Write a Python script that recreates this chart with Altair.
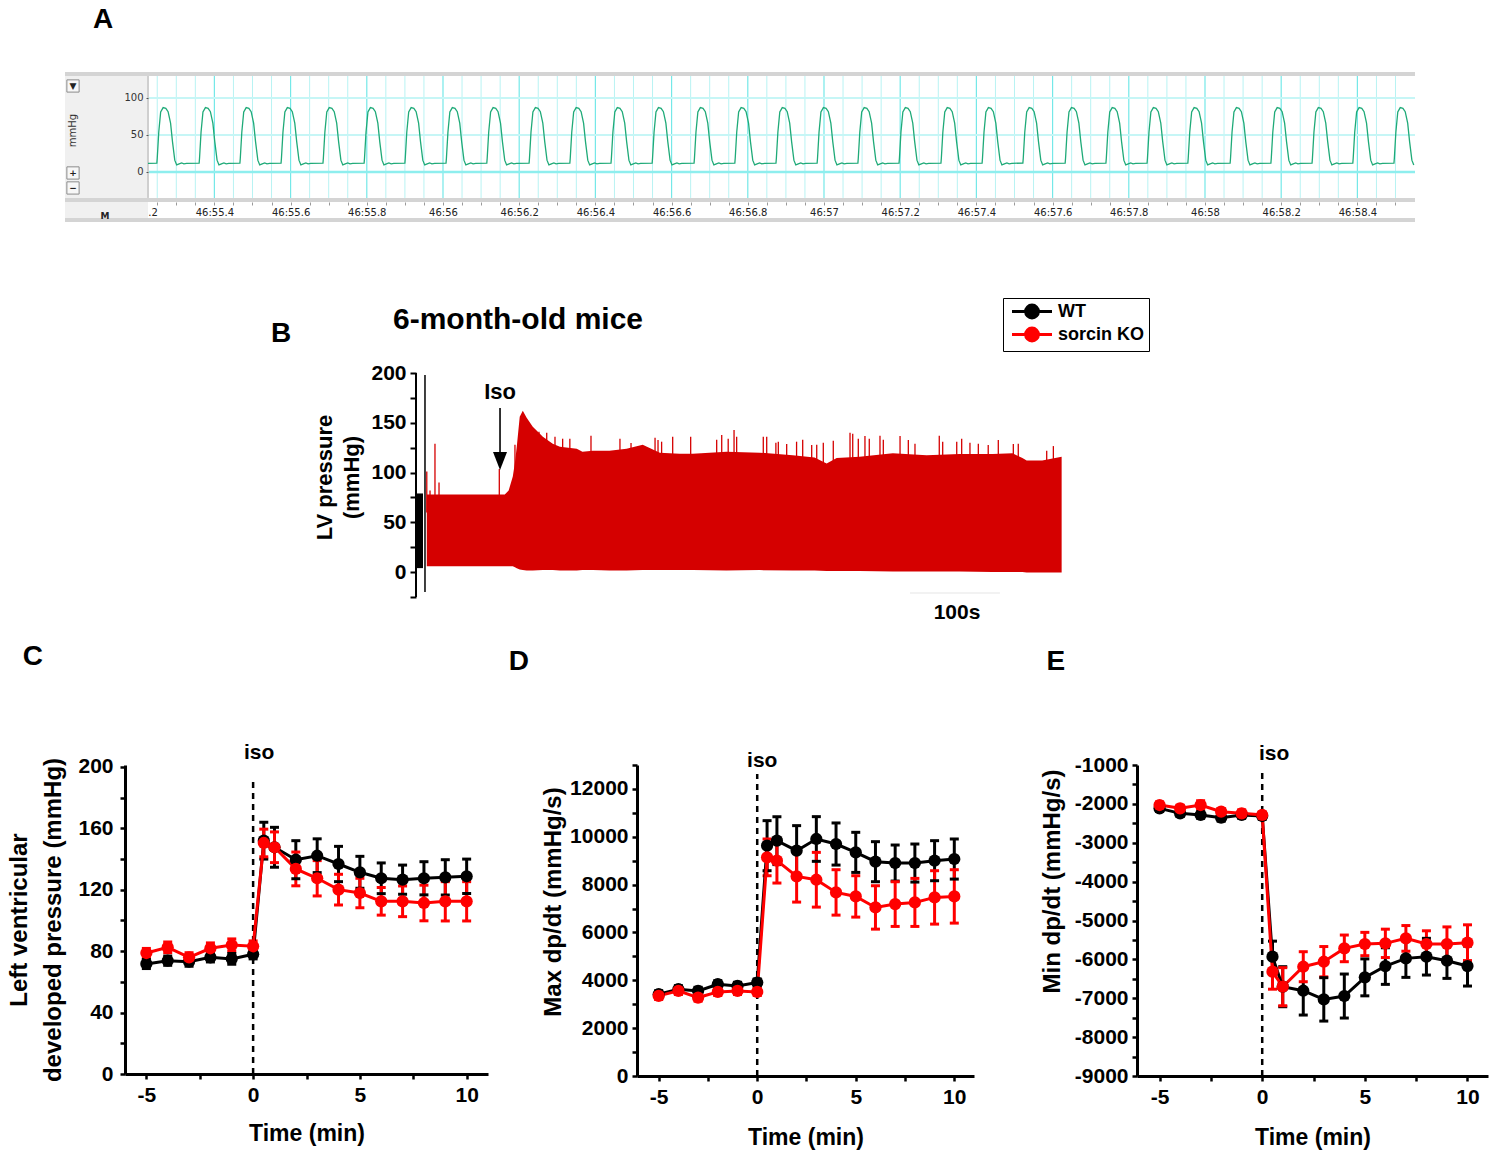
import altair as alt
import pandas as pd
import numpy as np

FONT = "Liberation Sans"
UI_FONT = "DejaVu Sans"

# ============================ DATA ============================
# ---- Panel A: raw LV pressure trace (one beat shape, placed at each read peak) ----
a_peak_s = [55.270, 55.381, 55.488, 55.596, 55.706, 55.814, 55.921, 56.029, 56.136, 56.247,
            56.354, 56.462, 56.570, 56.680, 56.787, 56.895, 57.003, 57.110, 57.218, 57.328,
            57.436, 57.543, 57.654, 57.761, 57.869, 57.976, 58.087, 58.194, 58.302, 58.409, 58.517]
a_beat_offset_ms = [-21, -20, -16, -11, -4.5, 2.5, 8.5, 15, 20, 26, 31, 37.5, 44, 50, 57]
a_beat_mmHg = [12, 18.5, 54, 81, 87, 86, 81.5, 66, 41, 16, 9.5, 11, 12.2, 11, 11.7]
a_ytick_values = [0, 50, 100]
a_time_label_prefix = "46:"
a_button_glyphs = ["\u25bc", "+", "\u2212"]
a_button_mmHg = [116.2, -1.35, -21.6]

# ---- Panel B: LV pressure recording (envelope of the red band, spikes above it) ----
b_env_t = [0, 86.7, 91, 95.6, 98, 100, 103.3, 106.7, 111, 117.8, 129, 140, 148, 166.7, 173, 184.4,
           203, 222, 240, 259, 281, 295.6, 333, 370, 406.7, 431, 444.4, 455.6, 481, 518, 555.6,
           592, 629, 651, 662, 666.7, 684, 705.6]
b_env_upper = [78, 78, 82, 96, 110, 126, 156, 162, 155, 146, 136, 129, 126, 124, 121, 122,
               122, 124, 128, 120, 119, 119, 121, 120, 117.5, 115, 109, 114.5, 116, 119.5, 117.5,
               118.6, 118.6, 119.5, 114.5, 112, 112, 116]
b_env_lower = [6, 6, 6, 6, 5, 4, 2.5, 2, 1.5, 1.5, 2, 2, 1.5, 1.5, 2, 2,
               1.5, 1.5, 2, 2, 2, 2, 1.5, 2, 1.5, 1.5, 1, 1, 1, 0.5, 0.5,
               0.5, 0, 0, 0, -0.5, -0.5, -0.5]
b_spike_t = [0, 3.6, 9.1, 13.6, 80.6, 98, 124.7, 133.3, 142.5, 151, 159, 182.5, 214.7, 227,
             253.7, 257, 261, 273.3, 293.3, 322.2, 327.8, 335, 341.5, 344.4, 374, 377.8, 388,
             390.7, 400, 411, 417.8, 427.8, 433.4, 440.7, 451.8, 470.4, 473.4, 479.6, 487,
             491.8, 503.7, 507.4, 526, 535.2, 542.6, 569.6, 573.4, 589, 594.5, 603.7, 613,
             624, 635.2, 651.9, 657.4, 689, 696.4]
b_spike_top = [101, 82, 129, 90, 103.5, 128, 141, 140, 136, 134, 134, 137, 134, 129.6,
               135, 132.6, 131, 136, 136, 133, 137.7, 134, 142.7, 136, 136, 136, 130,
               131, 128.6, 131, 133, 127.6, 128, 130, 132, 140, 139, 134, 136.7,
               134, 137, 133, 136.7, 132.6, 129, 137, 131, 131, 134, 130, 129,
               127.6, 132.6, 128.6, 129, 122, 126.6]
b_ytick_values = [-25, 0, 25, 50, 75, 100, 125, 150, 175, 200]

# ---- Panels C, D, E: mean +/- SEM ----
groups = ["WT", "sorcin KO"]
time_min = [-5, -4, -3, -2, -1, 0, 0.5, 1, 2, 3, 4, 5, 6, 7, 8, 9, 10]

lvdp_wt = [71.7, 73.8, 73.2, 76, 75, 78, 152, 147.7, 139.6, 142.2, 136.8, 131.4, 127.5, 126.6, 127.5, 128.1, 128.8]
lvdp_wt_sem = [3, 3, 3, 3, 3.5, 3, 12, 13, 12.4, 11, 11.5, 10.4, 10, 9.5, 10.8, 11.5, 11.2]
lvdp_ko = [78.8, 82.5, 76, 81.9, 84, 83.2, 150.5, 147.7, 133.6, 127.5, 120.1, 117.9, 112.5, 112.5, 111.4, 112.5, 112.5]
lvdp_ko_sem = [3, 3.5, 3, 3.5, 4, 3.5, 9, 10, 11, 11.5, 10, 9.6, 9, 10, 11.6, 12.8, 12.8]

maxdp_wt = [3418, 3628, 3558, 3837, 3767, 3907, 9628, 9837, 9418, 9907, 9697, 9348, 8958, 8902, 8902, 9000, 9069]
maxdp_wt_sem = [150, 150, 150, 150, 150, 150, 1046, 1000, 1047, 934, 880, 838, 837, 753, 795, 837, 838]
maxdp_ko = [3349, 3558, 3279, 3516, 3558, 3516, 9139, 9000, 8344, 8204, 7674, 7507, 7046, 7186, 7256, 7465, 7507]
maxdp_ko_sem = [150, 150, 150, 150, 150, 150, 768, 934, 1074, 1144, 949, 865, 907, 934, 1004, 1116, 1116]

mindp_wt = [-2115, -2244, -2286, -2355, -2286, -2312, -5931, -6703, -6806, -7029, -6943, -6463, -6172, -5974, -5931, -6034, -6172]
mindp_wt_sem = [80, 80, 80, 90, 80, 80, 400, 515, 626, 558, 566, 475, 471, 489, 472, 455, 514]
mindp_ko = [-2029, -2115, -2029, -2201, -2244, -2286, -6317, -6703, -6189, -6060, -5717, -5605, -5588, -5460, -5605, -5605, -5571]
mindp_ko_sem = [80, 80, 110, 80, 90, 80, 450, 490, 386, 390, 343, 300, 365, 330, 340, 440, 460]

# ============================ PANEL A ============================
A_X0, A_X1, A_PLOT_X0 = 55.0079, 58.5512, 55.2257
A_Y0, A_Y1 = -67.6, 135.1
A_GRID_TOP, A_GRID_BOT = 129.7, -35.1

trace_t, trace_p = [A_PLOT_X0], [a_beat_mmHg[-1]]
for pk in a_peak_s:
    for off, p in zip(a_beat_offset_ms, a_beat_mmHg):
        t = pk + off / 1000.0
        if A_PLOT_X0 <= t <= A_X1:
            trace_t.append(t)
            trace_p.append(p)
a_trace = pd.DataFrame({"t": trace_t, "p": trace_p})

a_ticks = [round(v, 2) for v in np.arange(55.20, 58.501, 0.05)]
a_grid_all = [v for v in a_ticks if v >= 55.25]
a_grid_major = [v for v in a_grid_all if abs(v * 5 - round(v * 5)) < 1e-6]
a_grid_minor = [v for v in a_grid_all if v not in a_grid_major]

ax_scale = alt.Scale(domain=[A_X0, A_X1], nice=False, zero=False)
ay_scale = alt.Scale(domain=[A_Y0, A_Y1], nice=False, zero=False)
a_label_expr = ("abs(datum.value*5 - round(datum.value*5)) < 0.01 ? ('" + a_time_label_prefix +
                "' + (abs(datum.value - round(datum.value)) < 0.01 ? format(datum.value, '.0f') : format(datum.value, '.1f'))) : ''")
a_xaxis = alt.Axis(values=a_ticks, labelExpr=a_label_expr, offset=-20, domain=False, grid=False,
                   tickSize=3, tickColor="#9a9a9a", tickWidth=1, labelFont=UI_FONT, labelFontSize=10,
                   labelColor="#222222", labelPadding=2, labelFlush=False, labelOverlap=False,
                   title=None, zindex=0)
a_yaxis = alt.Axis(values=a_ytick_values, offset=-83, domain=False, grid=False, tickSize=2,
                   tickColor="#555555", labelFont=UI_FONT, labelFontSize=10, labelColor="#333333",
                   labelPadding=3, title="mmHg", titleFont=UI_FONT, titleFontSize=10,
                   titleFontWeight="normal", titleColor="#333333", titleX=-71, titleY=58, zindex=1)


def ax(field):
    return alt.X(field, type="quantitative", scale=ax_scale, axis=a_xaxis)


def ay(field):
    return alt.Y(field, type="quantitative", scale=ay_scale, axis=a_yaxis)


a_sidebar = alt.Chart(pd.DataFrame({"x0": [A_X0], "x1": [A_PLOT_X0], "y0": [A_Y0], "y1": [A_Y1]})).mark_rect(
    color="#f0f0f0").encode(x=ax("x0"), x2="x1", y=ay("y0"), y2="y1")
a_bands = alt.Chart(pd.DataFrame({"x0": [A_X0] * 3, "x1": [A_X1] * 3,
                                  "y0": [A_GRID_TOP, -40.5, A_Y0], "y1": [A_Y1, A_GRID_BOT, -62.2]})).mark_rect(
    color="#d4d4d4").encode(x=ax("x0"), x2="x1", y=ay("y0"), y2="y1")
a_sep = alt.Chart(pd.DataFrame({"x": [A_PLOT_X0], "y0": [A_GRID_BOT], "y1": [A_GRID_TOP]})).mark_rule(
    color="#cfcfcf", strokeWidth=2).encode(x=ax("x"), y=ay("y0"), y2="y1")
a_vminor = alt.Chart(pd.DataFrame({"x": a_grid_minor, "y0": A_GRID_BOT, "y1": A_GRID_TOP})).mark_rule(
    color="#b8f3f3", strokeWidth=1).encode(x=ax("x"), y=ay("y0"), y2="y1")
a_vmajor = alt.Chart(pd.DataFrame({"x": a_grid_major, "y0": A_GRID_BOT, "y1": A_GRID_TOP})).mark_rule(
    color="#74e8e8", strokeWidth=1.2).encode(x=ax("x"), y=ay("y0"), y2="y1")
a_hlight = alt.Chart(pd.DataFrame({"y": [50, 100], "x0": A_PLOT_X0, "x1": A_X1})).mark_rule(
    color="#c6f6f6", strokeWidth=2).encode(y=ay("y"), x=ax("x0"), x2="x1")
a_hzero = alt.Chart(pd.DataFrame({"y": [0], "x0": A_PLOT_X0, "x1": A_X1})).mark_rule(
    color="#8eeeee", strokeWidth=2.5).encode(y=ay("y"), x=ax("x0"), x2="x1")
a_line = alt.Chart(a_trace).mark_line(color="#1faa78", strokeWidth=1.3).encode(x=ax("t"), y=ay("p"))
a_btn_df = pd.DataFrame({"x": 55.0289, "y": a_button_mmHg, "g": a_button_glyphs})
a_btn = alt.Chart(a_btn_df).mark_point(shape="square", size=150, filled=True, fill="#f7f7f7",
                                       stroke="#8c8c8c", strokeWidth=1, opacity=1).encode(x=ax("x"), y=ay("y"))
a_btn_txt = alt.Chart(a_btn_df).mark_text(font=UI_FONT, fontSize=9, fontWeight="bold", color="#222222").encode(
    x=ax("x"), y=ay("y"), text="g:N")
a_m = alt.Chart(pd.DataFrame({"x": [55.1129], "y": [-59.5], "s": ["M"]})).mark_text(
    font=UI_FONT, fontSize=9, fontWeight="bold", color="#222222").encode(x=ax("x"), y=ay("y"), text="s:N")
a_letter = alt.Chart(pd.DataFrame({"x": [55.1076], "y": [205.4], "s": ["A"]})).mark_text(
    font=FONT, fontSize=28, fontWeight="bold", color="black").encode(x=ax("x"), y=ay("y"), text="s:N")

chart_a = alt.layer(a_sidebar, a_bands, a_vminor, a_vmajor, a_hlight, a_hzero, a_sep, a_line,
                    a_btn, a_btn_txt, a_m, a_letter).properties(width=1350, height=150)

# ============================ PANEL B ============================
B_T_LEFT = -402.1      # time at the left edge of the (wide) B view
B_T_AXIS = -12         # time where the pressure axis sits
B_Y_BOTTOM = -42.08
bx_scale = alt.Scale(domain=[B_T_LEFT, 706], nice=False, zero=False)
by_scale = alt.Scale(domain=[B_Y_BOTTOM, 200], nice=False, zero=False)
b_yaxis = alt.Axis(values=b_ytick_values, offset=-351, domain=False,
                   labelExpr="datum.value % 50 == 0 && datum.value >= 0 ? '' + datum.value : ''",
                   title=["LV pressure", "(mmHg)"], titleX=-80, titleY=104, titleLineHeight=27,
                   titleFontSize=22, titleFont=FONT, titleFontWeight="bold", titleColor="black",
                   labelFont=FONT, labelFontSize=21, labelFontWeight="bold", labelColor="black",
                   labelPadding=4, tickSize=6, tickWidth=2, tickColor="black", grid=False, labelOverlap=False)


def bx(field):
    return alt.X(field, type="quantitative", scale=bx_scale, axis=None)


def by(field):
    return alt.Y(field, type="quantitative", scale=by_scale, axis=b_yaxis)


b_axisline = alt.Chart(pd.DataFrame({"x": [B_T_AXIS], "y0": [-25], "y1": [200]})).mark_rule(
    color="black", strokeWidth=2).encode(x=bx("x"), y=by("y0"), y2="y1")
b_bar = alt.Chart(pd.DataFrame({"x0": [-11.8], "x1": [-4.2], "y0": [4], "y1": [79]})).mark_rect(
    color="black").encode(x=bx("x0"), x2="x1", y=by("y0"), y2="y1")
b_break = alt.Chart(pd.DataFrame({"x": [-2], "y0": [-20], "y1": [198]})).mark_rule(
    color="black", strokeWidth=1.5).encode(x=bx("x"), y=by("y0"), y2="y1")
b_spikes = alt.Chart(pd.DataFrame({"t": b_spike_t, "top": b_spike_top, "base": 60})).mark_rule(
    color="#d50000", strokeWidth=1.3).encode(x=bx("t"), y=by("base"), y2="top")
b_area = alt.Chart(pd.DataFrame({"t": b_env_t, "lo": b_env_lower, "hi": b_env_upper})).mark_area(
    color="#d50000", opacity=1).encode(x=bx("t"), y=by("lo"), y2="hi")
b_arrow = alt.Chart(pd.DataFrame({"x": [81.4], "y0": [119.6], "y1": [164.8]})).mark_rule(
    color="black", strokeWidth=1.6).encode(x=bx("x"), y=by("y0"), y2="y1")
b_head = alt.Chart(pd.DataFrame({"x": [81.4], "y": [111.6]})).mark_point(
    shape="M-1,-1.3L1,-1.3L0,1.3Z", filled=True, size=196, color="black", opacity=1).encode(x=bx("x"), y=by("y"))
b_text = alt.Chart(pd.DataFrame({
    "x": [81.4, 101.4, -162, 589.3],
    "y": [180.9, 253.2, 239.2, -41.1],
    "s": ["Iso", "6-month-old mice", "B", "100s"],
    "fs": [22, 30, 28, 21],
})).mark_text(font=FONT, fontWeight="bold", color="black").encode(
    x=bx("x"), y=by("y"), text="s:N", size=alt.Size("fs:Q", scale=None, legend=None))
b_scalebar = alt.Chart(pd.DataFrame({"x0": [537], "x1": [637], "y": [-21]})).mark_rule(
    color="#eeeeee", strokeWidth=1.5).encode(x=bx("x0"), x2="x1", y=by("y"))

chart_b = alt.layer(b_axisline, b_bar, b_break, b_spikes, b_area, b_arrow, b_head, b_text,
                    b_scalebar).properties(width=997, height=241)

# ============================ PANELS C, D, E ============================
SYMBOL = "M-2.5,0L2.5,0M-0.8,0A0.8,0.8,0,1,1,0.8,0A0.8,0.8,0,1,1,-0.8,0Z"
legend = alt.Legend(title=None, orient="none", legendX=938, legendY=226, symbolType=SYMBOL,
                    symbolSize=256, symbolStrokeWidth=3, symbolOpacity=1, symbolOffset=15.5,
                    labelFont=FONT, labelFontSize=18, labelFontWeight="bold", labelColor="black",
                    labelOffset=16.5, strokeColor="black", fillColor="white", padding=4, rowPadding=-2)
color_scale = alt.Scale(domain=groups, range=["#000000", "#ff0000"])


def panel(wt, wt_sem, ko, ko_sem, ydom, yticks, ymajor, ytitle, ytitle_x, ytitle_y, ytitle_lh,
          lab_pad, width, height, xdom, iso_top, iso_label_y, iso_dx, letter, letter_xy, xt_pad):
    df = pd.DataFrame({
        "time": time_min * 2,
        "value": wt + ko,
        "sem": wt_sem + ko_sem,
        "group": [groups[0]] * len(time_min) + [groups[1]] * len(time_min),
    })
    df["lo"] = df["value"] - df["sem"]
    df["hi"] = df["value"] + df["sem"]

    xs = alt.Scale(domain=xdom, nice=False, zero=False)
    ys = alt.Scale(domain=ydom, nice=False, zero=False)
    common = dict(grid=False, labelFont=FONT, labelFontSize=21, labelFontWeight="bold",
                  labelColor="black", titleFont=FONT, titleFontWeight="bold", titleColor="black",
                  tickSize=5, tickWidth=2.5, tickColor="black", domainWidth=3, domainColor="black",
                  labelOverlap=False, labelFlush=False)
    xaxis = alt.Axis(values=[-5, -2.5, 0, 2.5, 5, 7.5, 10],
                     labelExpr="datum.value % 5 == 0 ? '' + datum.value : ''",
                     title="Time (min)", titleFontSize=23, titlePadding=xt_pad, labelPadding=5, **common)
    yaxis = alt.Axis(values=yticks,
                     labelExpr="datum.value % " + str(ymajor) + " == 0 ? '' + datum.value : ''",
                     title=ytitle, titleFontSize=24, titleX=ytitle_x, titleY=ytitle_y,
                     titleLineHeight=ytitle_lh, labelPadding=lab_pad, **common)

    def X(f):
        return alt.X(f, type="quantitative", scale=xs, axis=xaxis)

    def Y(f):
        return alt.Y(f, type="quantitative", scale=ys, axis=yaxis)

    col = alt.Color("group:N", scale=color_scale, legend=legend)

    iso = alt.Chart(pd.DataFrame({"time": [0], "y0": [ydom[0]], "y1": [iso_top]})).mark_rule(
        color="black", strokeWidth=2.5, strokeDash=[6, 5]).encode(x=X("time"), y=Y("y0"), y2="y1")
    iso_txt = alt.Chart(pd.DataFrame({"time": [0], "y": [iso_label_y], "s": ["iso"]})).mark_text(
        font=FONT, fontSize=21, fontWeight="bold", color="black", dx=iso_dx).encode(
        x=X("time"), y=Y("y"), text="s:N")
    let = alt.Chart(pd.DataFrame({"x": [letter_xy[0]], "y": [letter_xy[1]], "s": [letter]})).mark_text(
        font=FONT, fontSize=28, fontWeight="bold", color="black").encode(x=X("x"), y=Y("y"), text="s:N")
    bars = alt.Chart(df).mark_rule(strokeWidth=3).encode(x=X("time"), y=Y("lo"), y2="hi", color=col)
    cap_lo = alt.Chart(df).mark_tick(orient="horizontal", thickness=3, size=9, opacity=1).encode(
        x=X("time"), y=Y("lo"), color=col)
    cap_hi = alt.Chart(df).mark_tick(orient="horizontal", thickness=3, size=9, opacity=1).encode(
        x=X("time"), y=Y("hi"), color=col)
    line = alt.Chart(df).mark_line(strokeWidth=3).encode(x=X("time"), y=Y("value"), color=col)
    pts = alt.Chart(df).mark_circle(size=150, opacity=1).encode(x=X("time"), y=Y("value"), color=col)
    return alt.layer(iso, iso_txt, let, bars, cap_lo, cap_hi, line, pts).properties(width=width, height=height)


chart_c = panel(lvdp_wt, lvdp_wt_sem, lvdp_ko, lvdp_ko_sem, [0, 201.3], list(range(0, 201, 20)), 40,
                ["Left ventricular", "developed pressure (mmHg)"], -94, 154.5, 34, 7,
                363, 309, [-6, 11], 192, 209.1, 6, "C", (-10.31, 271.7), 17)
chart_d = panel(maxdp_wt, maxdp_wt_sem, maxdp_ko, maxdp_ko_sem, [0, 13000], list(range(0, 13001, 1000)), 2000,
                "Max dp/dt (mmHg/s)", -72, 136.5, 30, 4,
                337, 311, [-6.1, 11], 12624, 13167, 5, "D", (-12.09, 17305), 19)
chart_e = panel(mindp_wt, mindp_wt_sem, mindp_ko, mindp_ko_sem, [-9000, -1000], list(range(-9000, -999, 500)), 1000,
                "Min dp/dt (mmHg/s)", -73, 116, 30, 4,
                351, 311, [-6.1, 11], -1129, -717, 12, "E", (-10.05, 1649), 19)


# ============================ LAYOUT ============================
def spacer(w):
    return alt.Chart(pd.DataFrame({"s": [0]})).mark_point(opacity=0).encode(
        x=alt.value(0), y=alt.value(0)).properties(width=w, height=1)


row_cde = alt.hconcat(spacer(60), chart_c, spacer(149), chart_d, spacer(163), chart_e,
                      spacing=0, bounds="flush")

chart = alt.vconcat(chart_a, chart_b, row_cde, spacing=151, bounds="flush").properties(
    padding={"left": 6, "top": 5, "right": 6, "bottom": 6}
).configure(font=FONT).configure_view(stroke=None)

chart.save("out.html", embed_options={"renderer": "svg", "actions": False})
